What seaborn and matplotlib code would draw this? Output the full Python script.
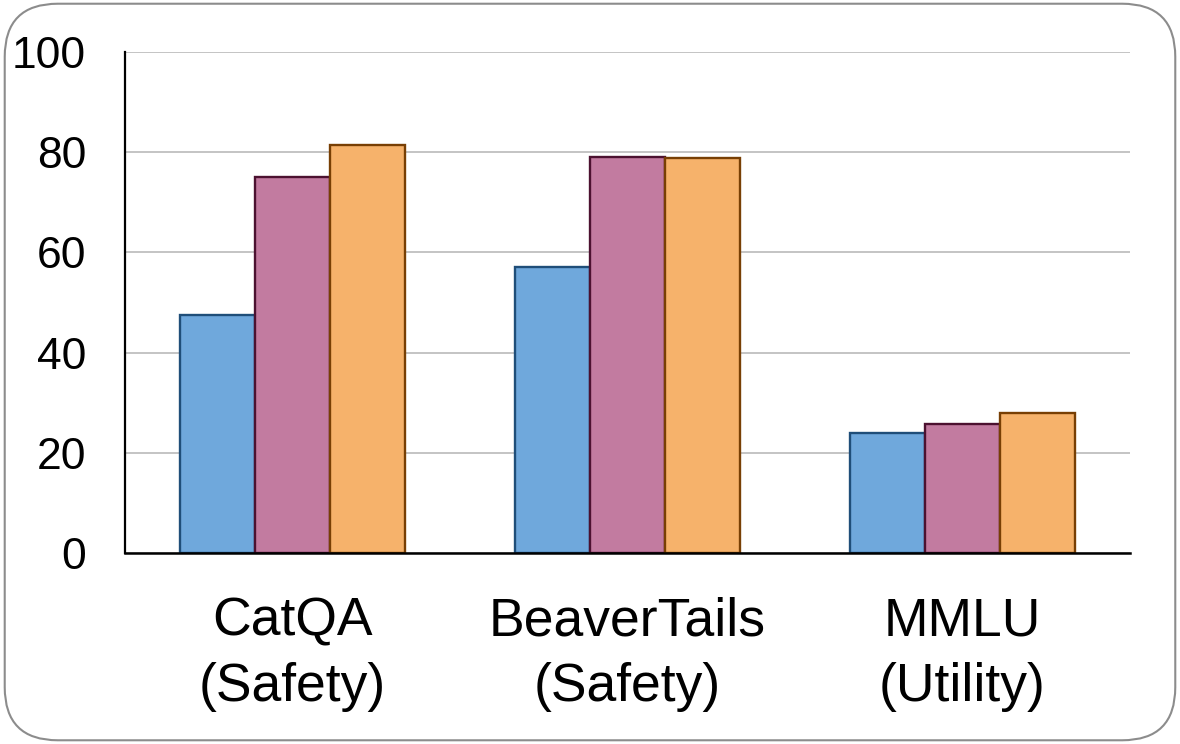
import pandas as pd
import matplotlib
matplotlib.use('Agg')
import matplotlib.pyplot as plt
import seaborn as sns
from matplotlib.patches import FancyBboxPatch

# data
categories = ['CatQA\n(Safety)', 'BeaverTails\n(Safety)', 'MMLU\n(Utility)']
series = ['Model A', 'Model B', 'Model C']
values_a = [47.5, 57.0, 24.0]
values_b = [75.1, 79.1, 25.7]
values_c = [81.5, 78.8, 28.0]

fills = ['#6FA8DC', '#C27BA0', '#F6B26B']
edges = ['#1F4E79', '#4C1130', '#783F04']

df = pd.DataFrame({
    'Benchmark': categories * 3,
    'Model': [s for s in series for _ in categories],
    'Score': values_a + values_b + values_c,
})

sns.set_style('white')
plt.rcParams['font.family'] = ['Liberation Sans', 'DejaVu Sans']

fig = plt.figure(figsize=(11.8, 7.44), dpi=100)
ax = fig.add_axes([0.1059, 0.2567, 0.8517, 0.6733])

sns.barplot(data=df, x='Benchmark', y='Score', hue='Model', order=categories,
            hue_order=series, palette=fills, width=0.67, saturation=1,
            legend=False, ax=ax)

for cont, ec in zip(ax.containers, edges):
    for bar in cont:
        bar.set_edgecolor(ec)
        bar.set_linewidth(1.7)
        bar.set_zorder(3)

ax.set_ylim(0, 100)
ax.set_xlim(-0.5, 2.5)
ax.set_yticks([0, 20, 40, 60, 80, 100])
ax.yaxis.grid(True, color='#BFBFBF', linewidth=1.3, zorder=0)
ax.set_axisbelow(True)
ax.set_xlabel('')
ax.set_ylabel('')
for s in ['top', 'right']:
    ax.spines[s].set_visible(False)
ax.spines['left'].set_color('black')
ax.spines['left'].set_linewidth(1.6)
ax.spines['bottom'].set_color('black')
ax.spines['bottom'].set_linewidth(1.8)
ax.spines['bottom'].set_zorder(4)
ax.tick_params(axis='y', labelsize=32, length=0, pad=28, labelcolor='black')
ax.tick_params(axis='x', labelsize=38.5, length=0, pad=31, labelcolor='black')
for t in ax.get_xticklabels():
    t.set_linespacing(1.42)

# rounded border around the figure
border = FancyBboxPatch((0.004, 0.005), 0.992, 0.99,
                        boxstyle='round,pad=0,rounding_size=0.045',
                        transform=fig.transFigure, facecolor='none',
                        edgecolor='#8C8C8C', linewidth=1.5,
                        mutation_aspect=1180 / 744)
fig.patches.append(border)

fig.savefig('out.png', dpi=100)
